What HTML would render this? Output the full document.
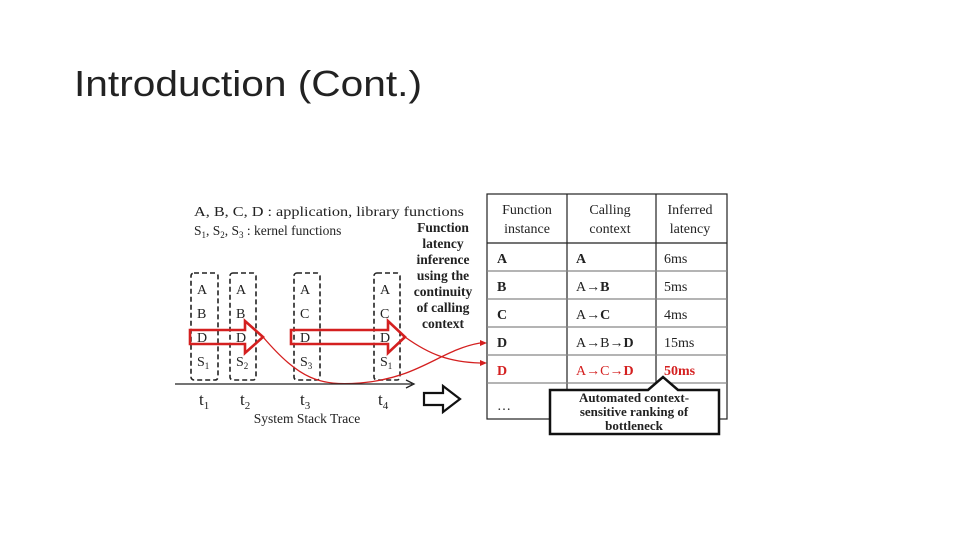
<!DOCTYPE html>
<html><head><meta charset="utf-8"><style>
html,body{margin:0;padding:0;background:#fff;width:960px;height:540px;overflow:hidden}
svg{display:block}
.s{font-family:"Liberation Serif",serif;fill:#222}
.b{font-weight:bold}
</style></head><body>
<svg width="960" height="540" viewBox="0 0 960 540">
<text x="74" y="96" font-family="DejaVu Sans ExtraLight,Liberation Sans,sans-serif" font-weight="200" font-size="36" fill="#222" textLength="348" lengthAdjust="spacingAndGlyphs">Introduction (Cont.)</text>

<text class="s" x="194" y="216" font-size="13.5" textLength="270" lengthAdjust="spacingAndGlyphs">A, B, C, D : application, library functions</text>
<text class="s" x="194" y="235" font-size="13.5">S<tspan font-size="9" dy="3">1</tspan><tspan dy="-3">, S</tspan><tspan font-size="9" dy="3">2</tspan><tspan dy="-3">, S</tspan><tspan font-size="9" dy="3">3</tspan><tspan dy="-3"> : kernel functions</tspan></text>
<g class="s b" font-size="13.5" text-anchor="middle">
<text x="443" y="232">Function</text><text x="443" y="248">latency</text><text x="443" y="264">inference</text><text x="443" y="280">using the</text><text x="443" y="296">continuity</text><text x="443" y="312">of calling</text><text x="443" y="328">context</text>
</g>

<g fill="none" stroke="#222" stroke-width="1.6" stroke-dasharray="5,3">
<rect x="191" y="273" width="27" height="107" rx="3"/>
<rect x="230" y="273" width="26" height="107" rx="3"/>
<rect x="294" y="273" width="26" height="107" rx="3"/>
<rect x="374" y="273" width="26" height="107" rx="3"/>
</g>
<g class="s" font-size="14">
<text x="197" y="294">A</text><text x="197" y="318">B</text><text x="197" y="342">D</text><text x="197" y="366">S<tspan font-size="9" dy="3">1</tspan></text>
<text x="236" y="294">A</text><text x="236" y="318">B</text><text x="236" y="342">D</text><text x="236" y="366">S<tspan font-size="9" dy="3">2</tspan></text>
<text x="300" y="294">A</text><text x="300" y="318">C</text><text x="300" y="342">D</text><text x="300" y="366">S<tspan font-size="9" dy="3">3</tspan></text>
<text x="380" y="294">A</text><text x="380" y="318">C</text><text x="380" y="342">D</text><text x="380" y="366">S<tspan font-size="9" dy="3">1</tspan></text>
</g>
<g fill="none" stroke="#d42020" stroke-width="2.6">
<path d="M190,330 H245 V321 L263,337 L245,353 V344 H190 Z"/>
<path d="M291,330 H388 V321 L405,337 L388,353 V344 H291 Z"/>
</g>
<g fill="none" stroke="#d42020" stroke-width="1.3">
<path d="M263,337 C300,380 320,386 360,383 C420,378 440,350 480,343"/>
<path d="M405,337 C430,355 450,362 480,363"/>
</g>
<path d="M480,340 L487,343 L480,346 Z M480,360 L487,363 L480,366 Z" fill="#d42020"/>

<line x1="175" y1="384" x2="412" y2="384" stroke="#222" stroke-width="1.3"/>
<path d="M406,380 L414,384 L406,388" fill="none" stroke="#222" stroke-width="1.3"/>
<g class="s" font-size="17">
<text x="199" y="405">t<tspan font-size="11" dy="4">1</tspan></text>
<text x="240" y="405">t<tspan font-size="11" dy="4">2</tspan></text>
<text x="300" y="405">t<tspan font-size="11" dy="4">3</tspan></text>
<text x="378" y="405">t<tspan font-size="11" dy="4">4</tspan></text>
</g>
<text class="s" x="307" y="423" font-size="13.5" text-anchor="middle">System Stack Trace</text>
<path d="M424,393 H443 V386 L460,399 L443,412 V405 H424 Z" fill="none" stroke="#111" stroke-width="2.2"/>

<g stroke="#222" stroke-width="1.2" fill="none">
<rect x="487" y="194" width="240" height="225"/>
<line x1="567" y1="194" x2="567" y2="419"/>
<line x1="656" y1="194" x2="656" y2="419"/>
<line x1="487" y1="243" x2="727" y2="243"/>
<line x1="487" y1="271" x2="727" y2="271" stroke="#888"/>
<line x1="487" y1="299" x2="727" y2="299" stroke="#888"/>
<line x1="487" y1="327" x2="727" y2="327" stroke="#888"/>
<line x1="487" y1="355" x2="727" y2="355" stroke="#888"/>
<line x1="487" y1="383" x2="727" y2="383" stroke="#888"/>
</g>
<g class="s" font-size="14" text-anchor="middle">
<text x="527" y="214">Function</text><text x="527" y="233">instance</text>
<text x="610" y="214">Calling</text><text x="610" y="233">context</text>
<text x="690" y="214">Inferred</text><text x="690" y="233">latency</text>
</g>
<g class="s" font-size="14">
<text x="497" y="263" class="b">A</text><text x="576" y="263" class="b">A</text><text x="664" y="263">6ms</text>
<text x="497" y="291" class="b">B</text><text x="576" y="291">A→<tspan font-weight="bold">B</tspan></text><text x="664" y="291">5ms</text>
<text x="497" y="319" class="b">C</text><text x="576" y="319">A→<tspan font-weight="bold">C</tspan></text><text x="664" y="319">4ms</text>
<text x="497" y="347" class="b">D</text><text x="576" y="347">A→B→<tspan font-weight="bold">D</tspan></text><text x="664" y="347">15ms</text>
<text x="497" y="375" class="b" fill="#d42020">D</text><text x="576" y="375" fill="#d42020">A→C→<tspan font-weight="bold">D</tspan></text><text x="664" y="375" class="b" fill="#d42020">50ms</text>
<text x="497" y="410">…</text>
</g>
<path d="M550,390 H648 L663,377 L678,390 H719 V434 H550 Z" fill="#fff" stroke="#111" stroke-width="2.5"/>
<g class="s b" font-size="13" text-anchor="middle">
<text x="634" y="402">Automated context-</text><text x="634" y="416">sensitive ranking of</text><text x="634" y="430">bottleneck</text>
</g>
</svg>
</body></html>
